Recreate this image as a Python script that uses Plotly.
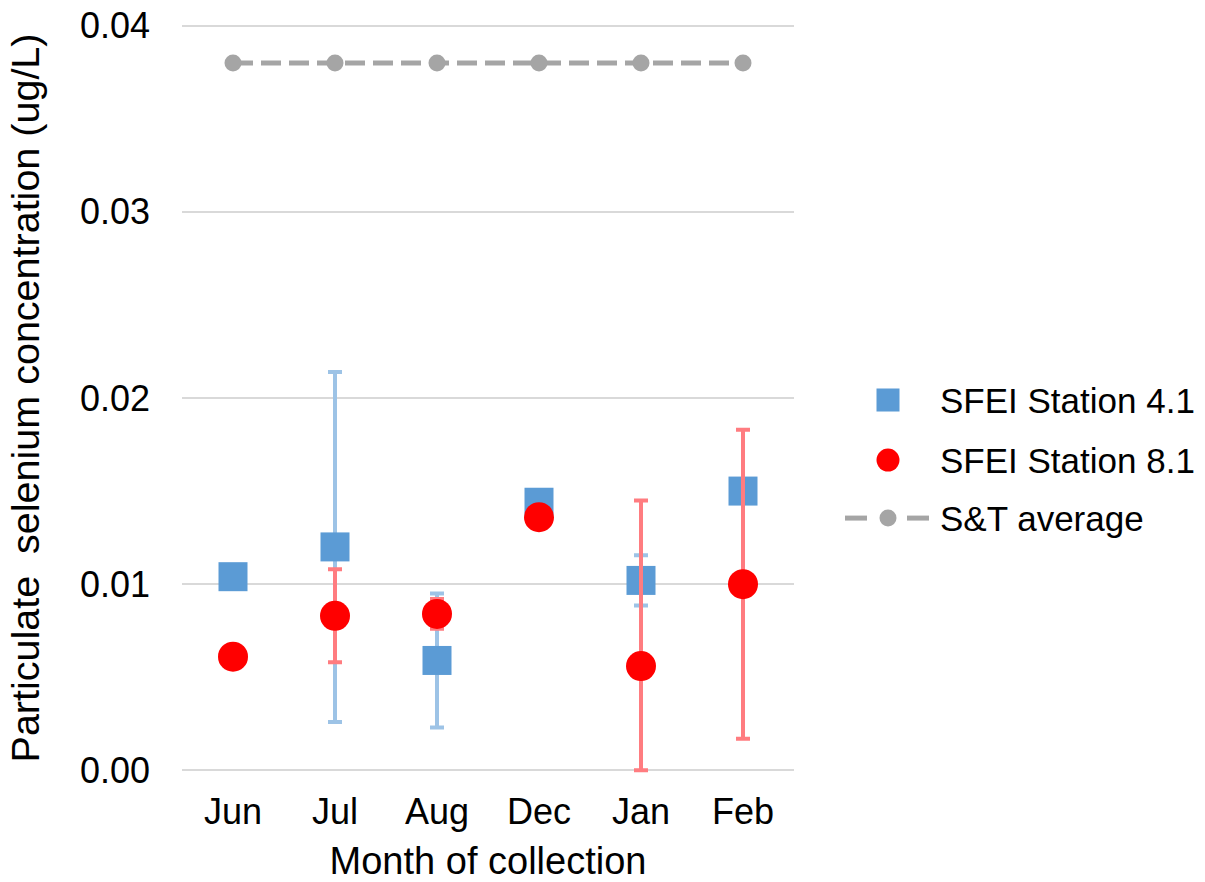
import plotly.graph_objects as go

months = ["Jun", "Jul", "Aug", "Dec", "Jan", "Feb"]

# Station 4.1 particulate selenium (ug/L) and symmetric error
st41 = [0.0104, 0.0120, 0.0059, 0.0144, 0.0102, 0.0150]
st41_err = [0.0, 0.0094, 0.0036, 0.0, 0.00135, 0.0]

# Station 8.1 particulate selenium (ug/L), upper and lower error
st81 = [0.0061, 0.0083, 0.0084, 0.0136, 0.0056, 0.0100]
st81_err_up = [0.0, 0.0025, 0.0008, 0.0, 0.0089, 0.0083]
st81_err_down = [0.0, 0.0025, 0.0008, 0.0, 0.0056, 0.0083]

# S&T average reference level
st_avg = [0.038, 0.038, 0.038, 0.038, 0.038, 0.038]

y_ticks = [0.0, 0.01, 0.02, 0.03, 0.04]
legend_labels = ["SFEI Station 4.1", "SFEI Station 8.1", "S&T average"]

FONT = "Liberation Sans, Arial, sans-serif"
BLUE, BLUE_ERR = "#5B9BD5", "#9DC3E6"
RED, RED_ERR = "#FF0000", "#FF7C80"
GREY = "#A5A5A5"

W, H = 1205, 882
# y axis: 0 sits at 770 px, 0.04 at 26 px; the range is padded a little
# so the end gridlines are kept
Y0_PX, Y1_PX = 770, 26
PAD = 0.0002
ppu = (Y0_PX - Y1_PX) / 0.04
L, R = 182, 411
T = Y1_PX - PAD * ppu
B = H - (Y0_PX + PAD * ppu)
PW = W - L - R
PH = H - T - B


def px(x):
    return (x - L) / PW


def py(y):
    return (H - B - y) / PH


fig = go.Figure()

fig.add_trace(go.Scatter(
    x=months, y=st_avg, name=legend_labels[2], mode="lines+markers",
    line=dict(color=GREY, width=5, dash="20px,8px"),
    marker=dict(symbol="circle", size=17, color=GREY),
))

fig.add_trace(go.Scatter(
    x=months, y=st41, name=legend_labels[0], mode="markers",
    marker=dict(symbol="square", size=29, color=BLUE),
    error_y=dict(type="data", array=st41_err, color=BLUE_ERR,
                 thickness=4, width=7),
))

fig.add_trace(go.Scatter(
    x=months, y=st81, name=legend_labels[1], mode="markers",
    marker=dict(symbol="circle", size=30, color=RED),
    error_y=dict(type="data", symmetric=False, array=st81_err_up,
                 arrayminus=st81_err_down, color=RED_ERR,
                 thickness=4, width=7),
))

# legend, drawn with paper-referenced shapes and text
shapes = []
annotations = []
sym_x = 888
rows = [400, 460, 518]
s = 11.5
shapes.append(dict(type="rect", xref="paper", yref="paper",
                   x0=px(sym_x - s), x1=px(sym_x + s),
                   y0=py(rows[0] + s), y1=py(rows[0] - s),
                   fillcolor=BLUE, line=dict(width=0)))
shapes.append(dict(type="circle", xref="paper", yref="paper",
                   x0=px(sym_x - s), x1=px(sym_x + s),
                   y0=py(rows[1] + s), y1=py(rows[1] - s),
                   fillcolor=RED, line=dict(width=0)))
for x0, x1 in [(845, 867), (907, 929)]:
    shapes.append(dict(type="line", xref="paper", yref="paper",
                       x0=px(x0), x1=px(x1), y0=py(rows[2]), y1=py(rows[2]),
                       line=dict(color=GREY, width=5)))
c = 8.5
shapes.append(dict(type="circle", xref="paper", yref="paper",
                   x0=px(sym_x - c), x1=px(sym_x + c),
                   y0=py(rows[2] + c), y1=py(rows[2] - c),
                   fillcolor=GREY, line=dict(width=0)))
for label, yy in zip(legend_labels, rows):
    annotations.append(dict(text=label, xref="paper", yref="paper",
                            x=px(938), y=py(yy), xanchor="left",
                            yanchor="middle", showarrow=False,
                            font=dict(size=35, color="#000000")))

fig.update_layout(
    width=W, height=H,
    margin=dict(l=L, r=R, t=T, b=B, pad=0, autoexpand=False),
    paper_bgcolor="white", plot_bgcolor="white",
    font=dict(family=FONT, size=36, color="#000000"),
    showlegend=False,
    shapes=shapes,
    annotations=annotations,
    xaxis=dict(
        type="category", categoryorder="array", categoryarray=months,
        showgrid=False, showline=False, ticks="", zeroline=False,
        automargin=False,
        tickfont=dict(size=36), ticklabelstandoff=13,
        title=dict(text="Month of collection", font=dict(size=38), standoff=16),
        range=[-0.5, 5.5],
    ),
    yaxis=dict(
        range=[-PAD, 0.04 + PAD], tickvals=y_ticks,
        tickformat=".2f", automargin=False,
        showgrid=True, gridcolor="#D9D9D9", gridwidth=2,
        showline=False, zeroline=False, ticks="",
        tickfont=dict(size=36), ticklabelstandoff=31,
        title=dict(text="Particulate  selenium concentration (ug/L)",
                   font=dict(size=39.5), standoff=28),
    ),
)

fig.write_html("out.html")
